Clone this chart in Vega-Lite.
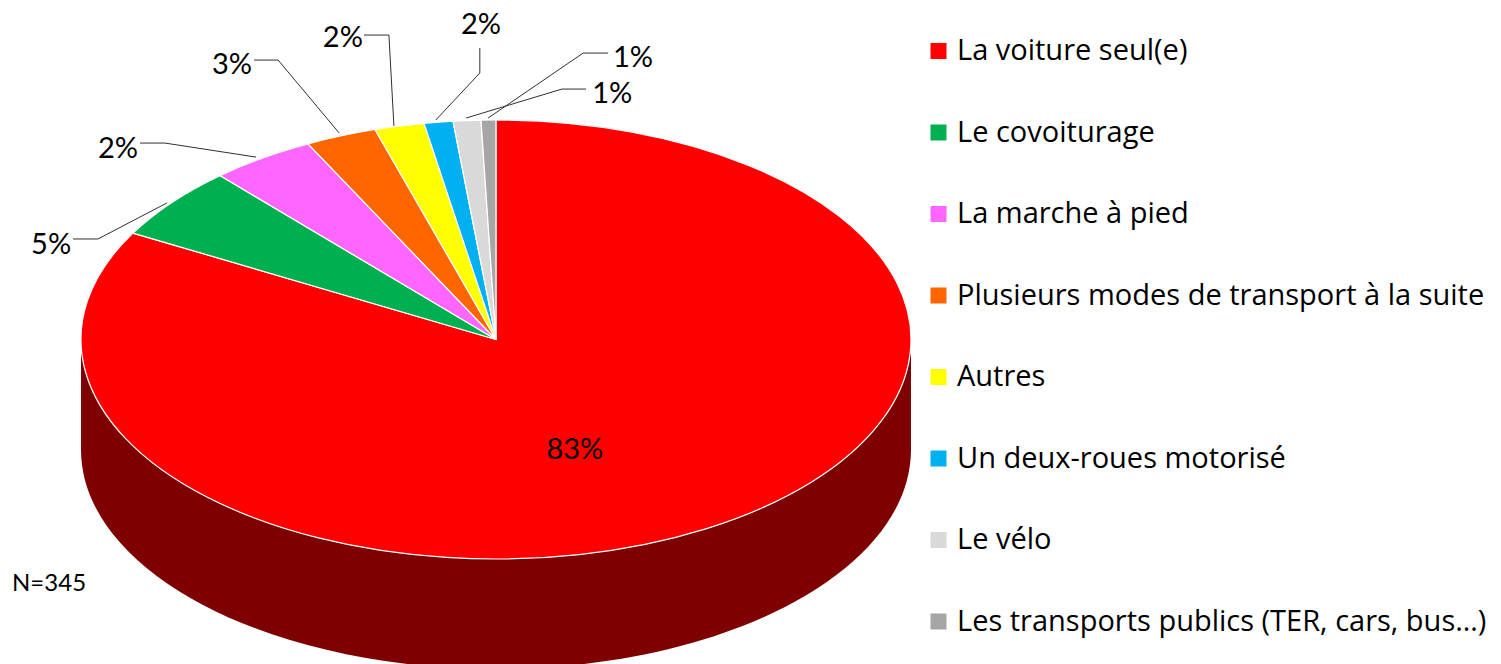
{
"$schema":"https://vega.github.io/schema/vega-lite/v6.json",
"width":1501,"height":664,"padding":0,"autosize":{"type":"none"},"background":"white",
"config":{"view":{"stroke":null},"font":"Lato"},
"datasets":{
"slices":[
{"mode":"La voiture seul(e)","slice":"voiture","share":0.83,"labelX":0.19,"labelY":-0.499},
{"mode":"Le covoiturage","slice":"covoiturage","share":0.05,"labelX":-1.072,"labelY":0.431},
{"mode":"La marche à pied","slice":"marche","share":0.02,"labelX":-0.911,"labelY":0.872},
{"mode":"Plusieurs modes de transport à la suite","slice":"plusieurs","share":0.03,"labelX":-0.636,"labelY":1.255},
{"mode":"Autres","slice":"autres","share":0.02,"labelX":-0.369,"labelY":1.374},
{"mode":"Un deux-roues motorisé","slice":"deux-roues","share":0.02,"labelX":-0.036,"labelY":1.437},
{"mode":"Le vélo","slice":"velo","share":0.01,"labelX":0.28,"labelY":1.123},
{"mode":"Les transports publics (TER, cars, bus…)","slice":"transports","share":0.01,"labelX":0.33,"labelY":1.287}
],
"leaders":[
{"slice":"covoiturage","step":1,"x":-1.019,"y":0.458},{"slice":"covoiturage","step":2,"x":-0.959,"y":0.458},{"slice":"covoiturage","step":3,"x":-0.793,"y":0.622},
{"slice":"marche","step":1,"x":-0.858,"y":0.895},{"slice":"marche","step":2,"x":-0.798,"y":0.895},{"slice":"marche","step":3,"x":-0.578,"y":0.831},
{"slice":"plusieurs","step":1,"x":-0.583,"y":1.273},{"slice":"plusieurs","step":2,"x":-0.525,"y":1.273},{"slice":"plusieurs","step":3,"x":-0.378,"y":0.941},
{"slice":"autres","step":1,"x":-0.318,"y":1.387},{"slice":"autres","step":2,"x":-0.258,"y":1.387},{"slice":"autres","step":3,"x":-0.246,"y":0.973},
{"slice":"deux-roues","step":1,"x":-0.039,"y":1.328},{"slice":"deux-roues","step":2,"x":-0.039,"y":1.214},{"slice":"deux-roues","step":3,"x":-0.145,"y":1.0},
{"slice":"velo","step":1,"x":0.217,"y":1.141},{"slice":"velo","step":2,"x":0.159,"y":1.141},{"slice":"velo","step":3,"x":-0.072,"y":1.009},
{"slice":"transports","step":1,"x":0.27,"y":1.305},{"slice":"transports","step":2,"x":0.21,"y":1.305},{"slice":"transports","step":3,"x":-0.019,"y":1.009}
]
},
"layer":[
{
"data":{"values":[{"part":"paroi"}]},
"mark":{"type":"point","filled":true,"opacity":1,"fill":"#7F0000","strokeWidth":0,"shape":"M-415,0A415,219.5 0 0 0 415,0L415,110A415,219.5 0 0 1 -415,110Z"},
"encoding":{
"x":{"datum":0,"type":"quantitative","axis":null,"scale":{"domain":[-1.19518,2.42169],"nice":false,"zero":false}},
"y":{"datum":0,"type":"quantitative","axis":null,"scale":{"domain":[-1.47836,1.5467],"nice":false,"zero":false}},
"size":{"value":4}
}
},
{
"data":{"name":"slices"},
"mark":{"type":"point","filled":true,"opacity":1,"stroke":"white","strokeWidth":1.2},
"encoding":{
"x":{"datum":0,"type":"quantitative"},
"y":{"datum":0,"type":"quantitative"},
"size":{"value":4},
"shape":{"field":"slice","type":"nominal","legend":null,"scale":{
"domain":["voiture","covoiturage","marche","plusieurs","autres","deux-roues","velo","transports"],
"range":[
"M0,0L0,-219.5A415,219.5 0 1 1 -363,-106.4Z",
"M0,0L-363,-106.4A415,219.5 0 0 1 -276,-163.9Z",
"M0,0L-276,-163.9A415,219.5 0 0 1 -188,-195.7Z",
"M0,0L-188,-195.7A415,219.5 0 0 1 -121,-210Z",
"M0,0L-121,-210A415,219.5 0 0 1 -72,-216.2Z",
"M0,0L-72,-216.2A415,219.5 0 0 1 -43,-218.3Z",
"M0,0L-43,-218.3A415,219.5 0 0 1 -15,-219.4Z",
"M0,0L-15,-219.4A415,219.5 0 0 1 0,-219.5Z"
]}},
"color":{"field":"mode","type":"nominal","sort":null,
"scale":{
"domain":["La voiture seul(e)","Le covoiturage","La marche à pied","Plusieurs modes de transport à la suite","Autres","Un deux-roues motorisé","Le vélo","Les transports publics (TER, cars, bus…)"],
"range":["#FF0000","#00B050","#FF66FF","#FF6600","#FFFF00","#00B0F0","#D9D9D9","#A6A6A6"]},
"legend":{"title":null,"orient":"none","legendX":924,"legendY":36.5,"padding":0,"symbolType":"square","symbolSize":256,"symbolStrokeWidth":0,"symbolOpacity":1,"labelFont":"Open Sans","labelFontSize":29,"labelColor":"black","labelOffset":4,"rowPadding":51.5,"labelLimit":600,"encode":{"labels":{"dy":{"value":6.5}}}}}
}
},
{
"data":{"name":"leaders"},
"mark":{"type":"line","color":"#303030","strokeWidth":1,"interpolate":"linear"},
"encoding":{
"x":{"field":"x","type":"quantitative"},
"y":{"field":"y","type":"quantitative"},
"detail":{"field":"slice"},
"order":{"field":"step"}
}
},
{
"data":{"name":"slices"},
"mark":{"type":"text","font":"Lato","fontSize":29,"dy":0.5,"color":"black","align":"center","baseline":"middle"},
"encoding":{
"x":{"field":"labelX","type":"quantitative"},
"y":{"field":"labelY","type":"quantitative"},
"text":{"field":"share","type":"quantitative","format":".0%"}
}
},
{
"data":{"values":[{"note":"N=345","noteX":-1.077,"noteY":-1.109}]},
"mark":{"type":"text","font":"Lato","fontSize":24,"dy":1,"color":"black","align":"center","baseline":"middle"},
"encoding":{
"x":{"field":"noteX","type":"quantitative"},
"y":{"field":"noteY","type":"quantitative"},
"text":{"field":"note"}
}
}
]
}
